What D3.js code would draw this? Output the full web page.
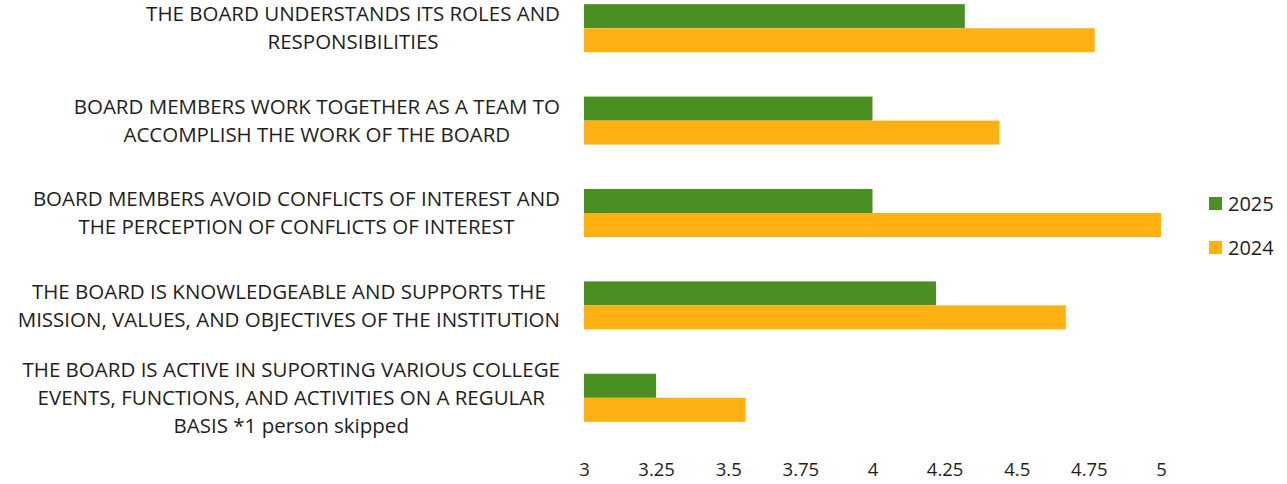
<!DOCTYPE html>
<html>
<head>
<meta charset="utf-8">
<script src="https://cdn.jsdelivr.net/npm/d3@7"></script>
<style>
  html, body { margin: 0; padding: 0; background: #fff; }
  svg { display: block; }
  text { font-family: "Open Sans", "Noto Sans", sans-serif; fill: #1e1e1e; }
</style>
</head>
<body>
<svg id="chart" width="1287" height="484"></svg>
<script>
// Survey statements (each entry is the wrapped lines of its label)
const categories = [
  ["THE BOARD UNDERSTANDS ITS ROLES AND", "RESPONSIBILITIES"],
  ["BOARD MEMBERS WORK TOGETHER AS A TEAM TO", "ACCOMPLISH THE WORK OF THE BOARD"],
  ["BOARD MEMBERS AVOID CONFLICTS OF INTEREST AND", "THE PERCEPTION OF CONFLICTS OF INTEREST"],
  ["THE BOARD IS KNOWLEDGEABLE AND SUPPORTS THE", "MISSION, VALUES, AND OBJECTIVES OF THE INSTITUTION"],
  ["THE BOARD IS ACTIVE IN SUPORTING VARIOUS COLLEGE", "EVENTS, FUNCTIONS, AND ACTIVITIES ON A REGULAR", "BASIS *1 person skipped"]
];
const seriesNames = ["2025", "2024"];
const values2025 = [4.32, 4.0, 4.0, 4.22, 3.25];
const values2024 = [4.77, 4.44, 5.0, 4.67, 3.56];
const xTicks = [3, 3.25, 3.5, 3.75, 4, 4.25, 4.5, 4.75, 5];
const colors = { "2025": "#4A8F22", "2024": "#FFB114" };

const series = { "2025": values2025, "2024": values2024 };
const svg = d3.select("#chart");

const x = d3.scaleLinear().domain([3, 5]).range([584, 1161]);
const keys = categories.map((c, i) => i);
const y = d3.scaleBand().domain(keys).range([-18, 444]).paddingInner(0.48).paddingOuter(0.24);
const yInner = d3.scaleBand().domain(seriesNames).range([0, y.bandwidth()]);

// Bars
const groups = svg.append("g").selectAll("g").data(keys).join("g")
  .attr("transform", i => `translate(0,${y(i)})`);
groups.selectAll("rect")
  .data(i => seriesNames.map(s => ({ s, v: series[s][i] })))
  .join("rect")
  .attr("x", x(3))
  .attr("y", d => yInner(d.s))
  .attr("width", d => x(d.v) - x(3))
  .attr("height", yInner.bandwidth())
  .attr("fill", d => colors[d.s]);

// Category labels: wrapped lines centred within a block right-aligned to the axis
const labelRight = 560;
const lineH = 28;
const fontSize = 20.5;
const labels = svg.append("g").attr("font-size", fontSize);
keys.forEach(i => {
  const lines = categories[i];
  const cy = y(i) + y.bandwidth() / 2;
  const g = labels.append("g");
  const texts = lines.map((t, k) => g.append("text")
    .attr("y", cy + (k - (lines.length - 1) / 2) * lineH)
    .attr("dy", "0.35em")
    .attr("text-anchor", "middle")
    .text(t));
  const w = d3.max(texts, t => t.node().getComputedTextLength());
  texts.forEach(t => t.attr("x", labelRight - w / 2));
});

// X axis (labels only)
const axis = svg.append("g")
  .attr("transform", "translate(0,470)")
  .call(d3.axisBottom(x).tickValues(xTicks).tickFormat(d3.format("~g")).tickSize(0).tickPadding(0));
axis.select(".domain").remove();
axis.selectAll("text").attr("font-size", 18.5).attr("dy", "0.35em").attr("y", 0)
  .style("font-family", '"Open Sans", "Noto Sans", sans-serif').attr("fill", "#1e1e1e");

// Legend
const legend = svg.append("g").attr("transform", "translate(1209,204)");
seriesNames.forEach((s, k) => {
  const g = legend.append("g").attr("transform", `translate(0,${k * 44})`);
  g.append("rect").attr("x", 0).attr("y", -7).attr("width", 13).attr("height", 13).attr("fill", colors[s]);
  g.append("text").attr("x", 19).attr("y", 0).attr("dy", "0.35em").attr("font-size", 20).text(s);
});
</script>
</body>
</html>
